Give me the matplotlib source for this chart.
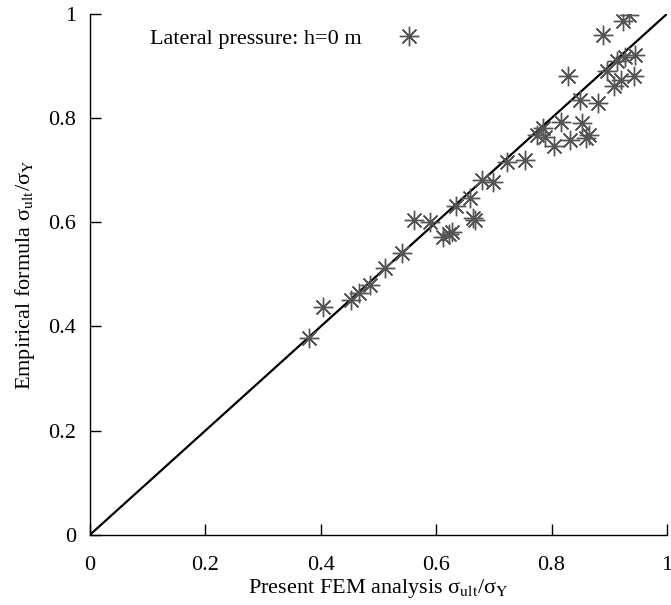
import matplotlib
matplotlib.use("Agg")
import matplotlib.pyplot as plt

# --- Datos: resistencia ultima normalizada (FEM vs formula empirica) ---
fem = [0.380, 0.404, 0.452, 0.466, 0.485, 0.511, 0.540, 0.562, 0.589, 0.612,
       0.622, 0.627, 0.635, 0.659, 0.664, 0.668, 0.679, 0.699, 0.722, 0.754,
       0.774, 0.786, 0.788, 0.804, 0.816, 0.832, 0.829, 0.850, 0.852, 0.859,
       0.865, 0.881, 0.890, 0.896, 0.908, 0.921, 0.942, 0.913, 0.927, 0.944,
       0.924, 0.934]
empirica = [0.378, 0.438, 0.451, 0.465, 0.480, 0.512, 0.541, 0.605, 0.601, 0.572,
            0.578, 0.582, 0.631, 0.646, 0.608, 0.604, 0.681, 0.678, 0.716, 0.720,
            0.768, 0.781, 0.763, 0.747, 0.792, 0.758, 0.880, 0.834, 0.790, 0.762,
            0.767, 0.829, 0.960, 0.890, 0.862, 0.873, 0.880, 0.910, 0.918, 0.921,
            0.986, 0.998]
ticks = [0, 0.2, 0.4, 0.6, 0.8, 1]
tick_labels = ["0", "0.2", "0.4", "0.6", "0.8", "1"]
etiqueta = "Lateral pressure: h=0 m"

plt.rcParams["font.family"] = "Liberation Serif"
plt.rcParams["mathtext.fontset"] = "stix"

fig = plt.figure(figsize=(6.71, 6.05), dpi=100)
ax = fig.add_axes([0.134, 0.116, 0.860, 0.861])

# --- Linea de igualdad ---
ax.plot([0, 1], [0, 1], color="black", lw=1.6, zorder=2)

# --- Puntos ---
ax.plot(fem, empirica, linestyle="none", marker=(8, 2, 0), markersize=14,
        markeredgewidth=1.0, color="#555555", label=etiqueta, zorder=3)

ax.set_xlim(0, 1)
ax.set_ylim(0, 1)
ax.set_xticks(ticks)
ax.set_xticklabels(tick_labels)
ax.set_yticks(ticks)
ax.set_yticklabels(tick_labels)
ax.tick_params(direction="in", length=8, width=1.0, labelsize=16)
ax.tick_params(axis="x", pad=15)
ax.tick_params(axis="y", pad=10)
for lado in ["top", "right"]:
    ax.spines[lado].set_visible(False)
for lado in ["left", "bottom"]:
    ax.spines[lado].set_linewidth(1.0)

ax.set_xlabel("Present FEM analysis σ$_{\\mathrm{ult}}$/σ$_{\\mathrm{Y}}$",
              fontsize=16, labelpad=2)
ax.set_ylabel("Empirical formula σ$_{\\mathrm{ult}}$/σ$_{\\mathrm{Y}}$",
              fontsize=16, labelpad=8)

ax.legend(loc="upper left", bbox_to_anchor=(0.07, 1.01), frameon=False,
          markerfirst=False, fontsize=16, handlelength=1.0, handletextpad=1.6)

fig.savefig("out.png", dpi=100)
